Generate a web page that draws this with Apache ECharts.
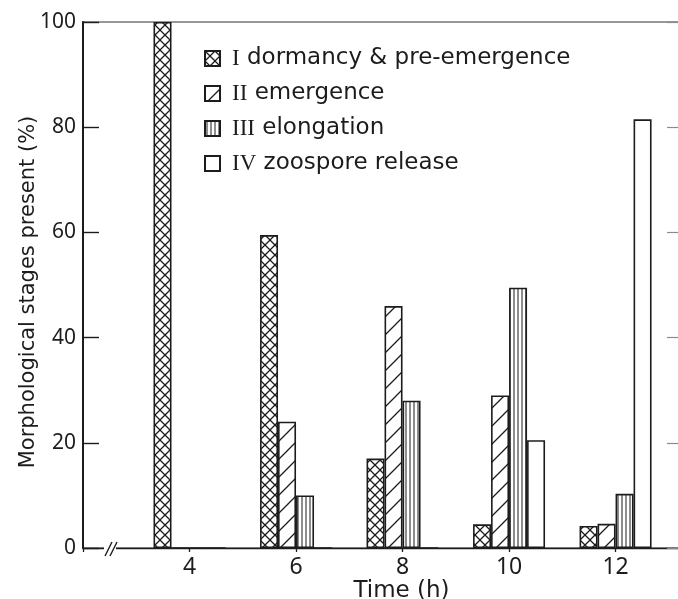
<!DOCTYPE html>
<html>
<head>
<meta charset="utf-8">
<script src="https://cdn.jsdelivr.net/npm/echarts@6.0.0/dist/echarts.min.js"></script>
<style>
  html, body { margin: 0; padding: 0; background: #ffffff; }
  #chart { width: 678px; height: 599px; }
</style>
</head>
<body>
<div id="chart"></div>
<script>
// ---- data ----
const times = [4, 6, 8, 10, 12];
const stageNames = [
  'I dormancy & pre-emergence',
  'II emergence',
  'III elongation',
  'IV zoospore release'
];
const stageI   = [100, 59.5, 17, 4.5, 4.2];
const stageII  = [0, 24, 46, 29, 4.6];
const stageIII = [0, 10, 28, 49.5, 10.3];
const stageIV  = [0, 0, 0, 20.5, 81.5];
const yTicks = [0, 20, 40, 60, 80, 100];

const INK = '#1c1c1c';
const FONT = '"Noto Sans", "DejaVu Sans", sans-serif';
const WIDE = '"DejaVu Sans", "Noto Sans", sans-serif';
const SERIF = '"Liberation Serif", "DejaVu Serif", serif';

function makePattern(kind) {
  const c = document.createElement('canvas');
  let s;
  if (kind === 'cross') {
    s = 10; c.width = s; c.height = s;
    const ctx = c.getContext('2d');
    ctx.fillStyle = '#fff'; ctx.fillRect(0, 0, s, s);
    ctx.strokeStyle = INK; ctx.lineWidth = 1.3;
    ctx.beginPath();
    ctx.moveTo(-1, -1); ctx.lineTo(s + 1, s + 1);
    ctx.moveTo(s + 1, -1); ctx.lineTo(-1, s + 1);
    ctx.stroke();
  } else if (kind === 'diag') {
    s = 18; c.width = s; c.height = s;
    const ctx = c.getContext('2d');
    ctx.fillStyle = '#fff'; ctx.fillRect(0, 0, s, s);
    ctx.strokeStyle = INK; ctx.lineWidth = 1.3;
    ctx.beginPath();
    for (const o of [-s, 0, s]) {
      ctx.moveTo(o - 1, s + 1); ctx.lineTo(o + s + 1, -1);
    }
    ctx.stroke();
  } else if (kind === 'vert') {
    s = 4; c.width = s; c.height = s;
    const ctx = c.getContext('2d');
    ctx.fillStyle = '#fff'; ctx.fillRect(0, 0, s, s);
    ctx.fillStyle = INK; ctx.fillRect(1.5, 0, 1, s);
  } else {
    s = 4; c.width = s; c.height = s;
    const ctx = c.getContext('2d');
    ctx.fillStyle = '#fff'; ctx.fillRect(0, 0, s, s);
  }
  return { image: c, repeat: 'repeat' };
}

const patterns = [makePattern('cross'), makePattern('diag'), makePattern('vert'), makePattern('none')];
const seriesValues = [stageI, stageII, stageIII, stageIV];

const chart = echarts.init(document.getElementById('chart'), null, { renderer: 'canvas' });

const series = seriesValues.map((vals, i) => ({
  name: stageNames[i],
  type: 'bar',
  data: times.map((t, j) => [t, vals[j]]),
  barWidth: 18,
  barGap: '0%',
  itemStyle: {
    color: patterns[i],
    borderColor: INK,
    borderWidth: 1.6
  },
  emphasis: { disabled: true },
  animation: false
}));

const option = {
  backgroundColor: '#ffffff',
  animation: false,
  grid: {
    left: 83, right: -2, top: 22, bottom: 51,
    containLabel: false,
    outerBoundsMode: 'none',
    show: true, borderColor: '#333', borderWidth: 1.2, backgroundColor: 'transparent'
  },
  legend: {
    orient: 'vertical',
    left: 199, top: 42,
    itemWidth: 15, itemHeight: 15, itemGap: 12,
    icon: 'rect',
    selectedMode: false,
    textStyle: {
      fontFamily: WIDE, fontSize: 23, color: INK, lineHeight: 21, padding: [0, 0, 0, 7],
      rich: {
        n: { fontFamily: SERIF, fontSize: 23, color: INK, lineHeight: 21 }
      }
    },
    formatter: function (name) {
      const sp = name.indexOf(' ');
      return '{n|' + name.slice(0, sp) + '}' + name.slice(sp);
    },
    data: stageNames
  },
  xAxis: {
    type: 'value',
    min: 2, max: 13.21, interval: 2,
    name: 'Time (h)',
    nameLocation: 'middle',
    nameGap: 32,
    nameMoveOverlap: false,
    nameTextStyle: { fontFamily: WIDE, fontSize: 23, color: INK, padding: [0, 0, 0, 40] },
    axisLine: { show: true, lineStyle: { color: INK, width: 1.3 } },
    axisTick: { show: true, inside: false, length: 4, lineStyle: { color: INK, width: 1.3 } },
    axisLabel: {
      fontFamily: FONT, fontSize: 23, color: INK, margin: 8,
      formatter: v => (times.indexOf(v) >= 0 ? String(v) : '')
    },
    splitLine: { show: false }
  },
  yAxis: [{
    type: 'value',
    min: yTicks[0], max: yTicks[yTicks.length - 1], interval: 20,
    name: 'Morphological stages present (%)',
    nameLocation: 'middle',
    nameGap: 44,
    nameMoveOverlap: false,
    nameTextStyle: { fontFamily: WIDE, fontSize: 21, color: INK, padding: [0, 0, 0, -14] },
    axisLine: { show: true, lineStyle: { color: INK, width: 2 } },
    axisTick: { show: true, inside: true, length: 16, lineStyle: { color: INK, width: 1.4 } },
    axisLabel: { fontFamily: FONT, fontSize: 21, color: INK, margin: 7 },
    splitLine: { show: false }
  }, {
    type: 'value',
    position: 'right',
    min: yTicks[0], max: yTicks[yTicks.length - 1], interval: 20,
    axisLine: { show: false },
    axisTick: { show: true, inside: true, length: 13, lineStyle: { color: '#8a8a8a', width: 1.2 } },
    axisLabel: { show: false },
    splitLine: { show: false }
  }],
  series: series
};

chart.setOption(option);

// axis break mark "//" on the x axis
const p0 = chart.convertToPixel({ xAxisIndex: 0, yAxisIndex: 0 }, [2, 0]);
const bx = p0[0] + 23, by = p0[1];
chart.setOption({
  graphic: [
    { type: 'rect', shape: { x: bx - 2, y: by - 2, width: 12, height: 4 }, style: { fill: '#fff' }, z: 100 },
    { type: 'line', shape: { x1: bx - 1, y1: by + 8, x2: bx + 6, y2: by - 6 }, style: { stroke: INK, lineWidth: 1.4 }, z: 101 },
    { type: 'line', shape: { x1: bx + 4, y1: by + 8, x2: bx + 11, y2: by - 6 }, style: { stroke: INK, lineWidth: 1.4 }, z: 101 }
  ]
});
</script>
</body>
</html>
